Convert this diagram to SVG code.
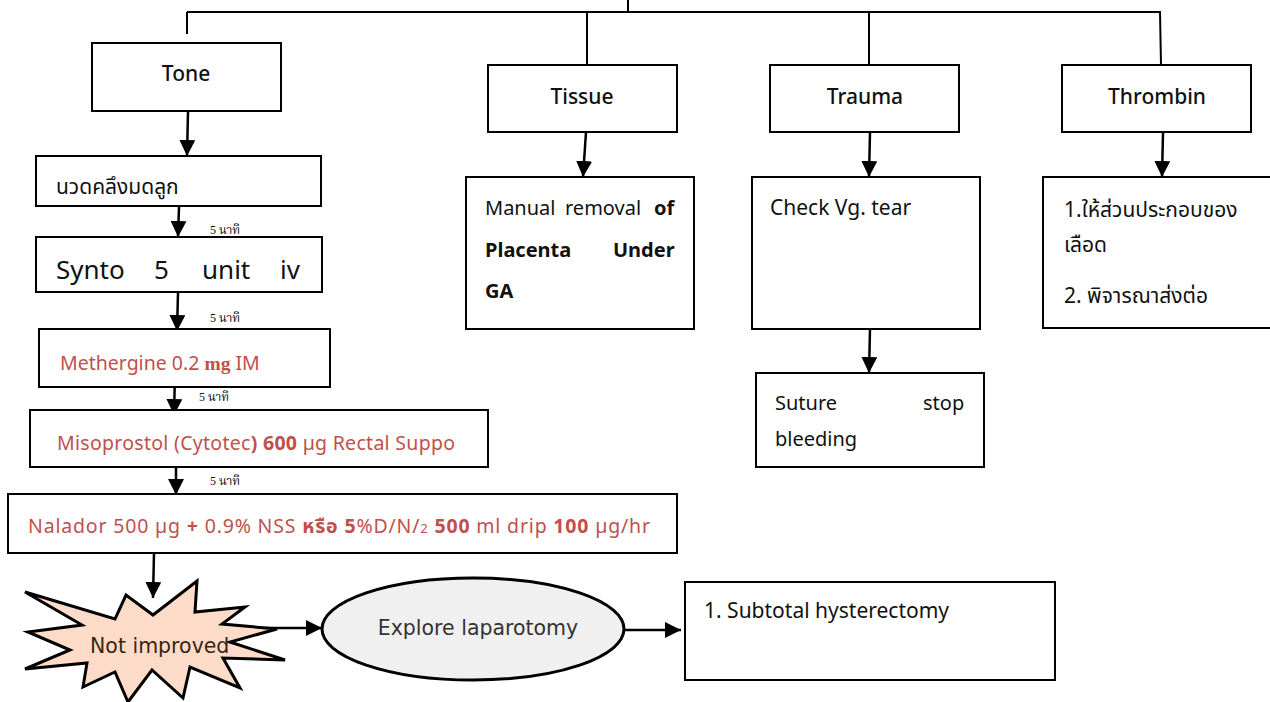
<svg xmlns="http://www.w3.org/2000/svg" width="1270" height="702" viewBox="0 0 1270 702">
<style>
.box{fill:#fff;stroke:#000;stroke-width:2}
.ln{fill:none;stroke:#000;stroke-width:2}
.ar{fill:none;stroke:#000;stroke-width:2.5;marker-end:url(#ah)}
.t{font-family:"Noto Sans","Noto Sans Thai","DejaVu Sans",sans-serif;font-size:20px;fill:#111}
.h{font-size:21px;font-weight:500}
.th{font-size:21px}
.red{fill:#c0504d;font-size:19.5px}
.b{font-weight:bold}
.lbl{font-family:"Liberation Serif","Noto Serif Thai",serif;font-size:12px;fill:#111}
</style>
<defs>
<marker id="ah" viewBox="0 0 10 10" refX="10" refY="5" markerWidth="16" markerHeight="16" markerUnits="userSpaceOnUse" orient="auto">
<path d="M0,0 L10,5 L0,10 z" fill="#000"/>
</marker>
</defs>
<rect width="1270" height="702" fill="#fff"/>

<g id="connectors">
<path class="ln" d="M628,0 V12 M187,12 H1161 M187,12 V34 M587,12 V65 M869,12 V65 M1160,12 L1161,65"/>
<path class="ar" d="M188,112 L187,156"/>
<path class="ar" d="M179,207 L178,237"/>
<path class="ar" d="M178,293 L177,331"/>
<path class="ar" d="M175,373 L174,415"/>
<path class="ar" d="M176,452 L176,495"/>
<path class="ar" d="M154,553 L153,598"/>
<path class="ar" d="M253,628 L322,628"/>
<path class="ar" d="M624,630 L681,630"/>
<path class="ar" d="M586,132 L583,177"/>
<path class="ar" d="M870,132 L869,177"/>
<path class="ar" d="M870,329 L869,373"/>
<path class="ar" d="M1163,133 L1162,177"/>
</g>

<g id="tone">
<rect class="box" x="92" y="43" width="189" height="68"/>
<text class="t h" x="186" y="81" text-anchor="middle">Tone</text>
</g>
<g id="tissue">
<rect class="box" x="488" y="65" width="189" height="67"/>
<text class="t h" x="582" y="104" text-anchor="middle">Tissue</text>
</g>
<g id="trauma">
<rect class="box" x="770" y="65" width="189" height="67"/>
<text class="t h" x="865" y="104" text-anchor="middle">Trauma</text>
</g>
<g id="thrombin">
<rect class="box" x="1062" y="65" width="189" height="67"/>
<text class="t h" x="1157" y="104" text-anchor="middle">Thrombin</text>
</g>

<g id="massage">
<rect class="box" x="36" y="156" width="285" height="50"/>
<text class="t th" x="56" y="194">นวดคลึงมดลูก</text>
</g>
<text class="lbl" x="210" y="234">5 นาที</text>
<g id="synto">
<rect class="box" x="36" y="237" width="286" height="55"/>
<text class="t" y="279" style="font-size:26px"><tspan x="56">Synto</tspan><tspan x="154">5</tspan><tspan x="202">unit</tspan><tspan x="280">iv</tspan></text>
</g>
<text class="lbl" x="210" y="322">5 นาที</text>
<g id="methergine">
<rect class="box" x="39" y="329" width="291" height="58"/>
<text class="t red" x="60" y="370">Methergine 0.2 <tspan style="font-family:'Liberation Serif',serif;font-weight:bold">mg</tspan> IM</text>
</g>
<text class="lbl" x="199" y="401">5 นาที</text>
<g id="misoprostol">
<rect class="box" x="30" y="410" width="458" height="57"/>
<text class="t red" x="57" y="450" textLength="398" lengthAdjust="spacing">Misoprostol (Cytotec<tspan class="b">)</tspan>   <tspan class="b">600</tspan> µg Rectal Suppo</text>
</g>
<text class="lbl" x="210" y="485">5 นาที</text>
<g id="nalador">
<rect class="box" x="8" y="494" width="669" height="59"/>
<text class="t red" x="28" y="533" textLength="622" lengthAdjust="spacing">Nalador 500 µg <tspan class="b">+</tspan> 0.9% NSS <tspan class="b">หรือ 5</tspan>%D/N/<tspan style="font-size:13px">2</tspan> <tspan class="b">500</tspan> ml drip <tspan class="b">100</tspan> µg/hr</text>
</g>

<g id="not-improved">
<polygon points="25,592 115,619 126,595 153,615 197,581 195,612 245,607 222,624 277,629 230,642 285,660 223,658 240,688 190,667 183,698 152,670 128,702 115,672 83,687 87,663 25,669 70,650 28,632 82,625" fill="#fcdcc8" stroke="#000" stroke-width="3" stroke-linejoin="miter"/>
<text x="90" y="653" style="font-family:'DejaVu Sans',sans-serif;font-size:20.5px;fill:#3b2314">Not improved</text>
</g>

<g id="laparotomy">
<ellipse cx="473" cy="629" rx="151" ry="51" fill="#f0f0f0" stroke="#000" stroke-width="3"/>
<text x="478" y="635" text-anchor="middle" style="font-family:'DejaVu Sans',sans-serif;font-size:20.5px;fill:#333">Explore laparotomy</text>
</g>

<g id="hysterectomy">
<rect class="box" x="685" y="582" width="370" height="98"/>
<text class="t" x="704" y="618" style="font-size:21px">1. Subtotal hysterectomy</text>
</g>

<g id="manual-removal">
<rect class="box" x="466" y="177" width="228" height="152"/>
<text class="t" y="215"><tspan x="485">Manual</tspan><tspan x="565">removal</tspan><tspan x="654" class="b">of</tspan></text>
<text class="t b" y="257"><tspan x="485">Placenta</tspan><tspan x="613">Under</tspan></text>
<text class="t b" x="485" y="298">GA</text>
</g>

<g id="check-tear">
<rect class="box" x="752" y="177" width="228" height="152"/>
<text class="t" x="770" y="215" style="font-size:21px">Check Vg. tear</text>
</g>

<g id="suture">
<rect class="box" x="756" y="373" width="228" height="94"/>
<text class="t" y="410"><tspan x="775">Suture</tspan><tspan x="923">stop</tspan></text>
<text class="t" x="775" y="446">bleeding</text>
</g>

<g id="blood">
<rect class="box" x="1043" y="177" width="240" height="151"/>
<text class="t th" x="1064" y="217">1.ให้ส่วนประกอบของ</text>
<text class="t th" x="1064" y="252">เลือด</text>
<text class="t th" x="1064" y="303">2. พิจารณาส่งต่อ</text>
</g>
</svg>
